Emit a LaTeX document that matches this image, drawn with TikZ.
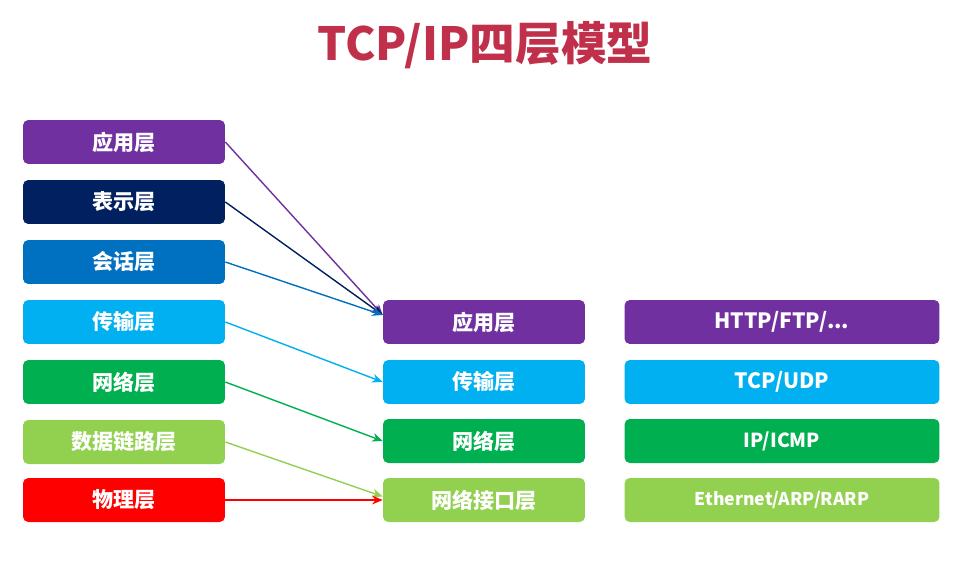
\documentclass[tikz,border=0pt]{standalone}
\usepackage{fontspec}
\setmainfont{Noto Sans CJK SC}
\usetikzlibrary{arrows.meta,positioning}
\definecolor{cpurple}{HTML}{7030A0}
\definecolor{cnavy}{HTML}{002060}
\definecolor{cblue}{HTML}{0070C0}
\definecolor{clblue}{HTML}{00B0F0}
\definecolor{cgreen}{HTML}{00B050}
\definecolor{clgreen}{HTML}{92D050}
\definecolor{cred}{HTML}{FF0000}
\definecolor{ctitle}{HTML}{C0304A}

\begin{document}
\begin{tikzpicture}[x=0.02cm, y=-0.02cm,
    layer/.style={rounded corners=3pt, minimum width=4.04cm, minimum height=0.88cm,
        text=white, font=\bfseries\fontsize{12}{14}\selectfont, inner sep=0pt},
    proto/.style={layer, minimum width=6.3cm},
    link/.style={-{Stealth[length=6pt,width=5pt]}, thick}]
    \useasboundingbox (0,0) rectangle (955,587);

    % Title
    \node[text=ctitle, font=\bfseries\fontsize{26}{30}\selectfont] (title) at (485,45) {TCP/IP四层模型};

    % OSI seven layers
    \node[layer, fill=cpurple] (osi7) at (124,142) {应用层};
    \node[layer, fill=cnavy] (osi6) at (124,202) {表示层};
    \node[layer, fill=cblue] (osi5) at (124,262) {会话层};
    \node[layer, fill=clblue] (osi4) at (124,322) {传输层};
    \node[layer, fill=cgreen] (osi3) at (124,382) {网络层};
    \node[layer, fill=clgreen] (osi2) at (124,442) {数据链路层};
    \node[layer, fill=cred] (osi1) at (124,500) {物理层};

    % TCP/IP four layers
    \node[layer, fill=cpurple] (tcp4) at (484,322) {应用层};
    \node[layer, fill=clblue] (tcp3) at (484,382) {传输层};
    \node[layer, fill=cgreen] (tcp2) at (484,441) {网络层};
    \node[layer, fill=clgreen] (tcp1) at (484,500) {网络接口层};

    % Protocols
    \node[proto, fill=cpurple] (p4) at (782,322) {HTTP/FTP/...};
    \node[proto, fill=clblue] (p3) at (782,382) {TCP/UDP};
    \node[proto, fill=cgreen, font=\bfseries\fontsize{11}{13}\selectfont] (p2) at (782,441) {IP/ICMP};
    \node[proto, fill=clgreen, font=\bfseries\fontsize{10}{12}\selectfont] (p1) at (782,500) {Ethernet/ARP/RARP};

    % Mapping arrows
    \draw[link, cpurple] (osi7.east) -- ([yshift=4pt]tcp4.west);
    \draw[link, cnavy] (osi6.east) -- ([yshift=4pt]tcp4.west);
    \draw[link, cblue] (osi5.east) -- ([yshift=4pt]tcp4.west);
    \draw[link, clblue] (osi4.east) -- (tcp3.west);
    \draw[link, cgreen] (osi3.east) -- (tcp2.west);
    \draw[link, clgreen] (osi2.east) -- ([yshift=2pt]tcp1.west);
    \draw[link, cred] (osi1.east) -- (tcp1.west);
\end{tikzpicture}
\end{document}
